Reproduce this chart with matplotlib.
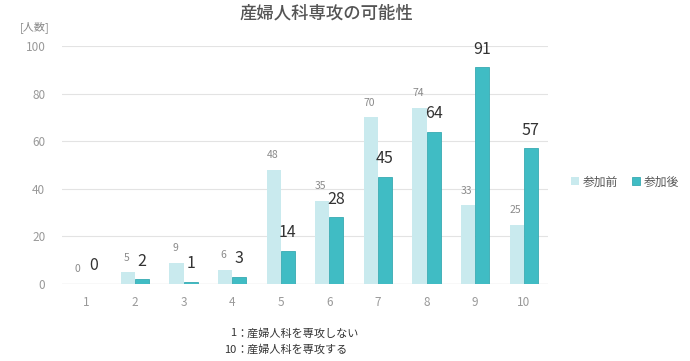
import matplotlib.pyplot as plt
import numpy as np

plt.rcParams['font.family'] = ['Noto Sans CJK JP', 'DejaVu Sans']

# データ
categories = ['1', '2', '3', '4', '5', '6', '7', '8', '9', '10']
before = [0, 5, 9, 6, 48, 35, 70, 74, 33, 25]
after = [0, 2, 1, 3, 14, 28, 45, 64, 91, 57]
series_names = ['参加前', '参加後']
y_ticks = [0, 20, 40, 60, 80, 100]

c_before = '#c9eaee'
c_after = '#40bcc4'

fig = plt.figure(figsize=(6.9, 3.61), dpi=100)
ax = fig.add_axes([62 / 690, 1 - 284 / 361, (548 - 62) / 690, (284 - 46) / 361])

x = np.arange(1, len(categories) + 1)
w = 0.29
ax.bar(x - w / 2, before, w, color=c_before, label=series_names[0], zorder=2)
ax.bar(x + w / 2, after, w, color=c_after, edgecolor='#38aab2', linewidth=0.6,
       label=series_names[1], zorder=2)

for xi, b, a in zip(x, before, after):
    ax.text(xi - w / 2 - 0.03, b + 4, str(b), ha='center', va='bottom',
            fontsize=7.5, color='#8a8a8a')
    ax.text(xi + w / 2, a + 4, str(a), ha='center', va='bottom',
            fontsize=11.5, color='#333333')

ax.set_xlim(0.5, 10.5)
ax.set_ylim(0, 100)
ax.set_xticks(x)
ax.set_xticklabels(categories)
ax.set_yticks(y_ticks)
ax.grid(axis='y', color='#e3e3e3', linewidth=0.8, zorder=0)
ax.tick_params(length=0, colors='#999999', labelsize=8.5)
ax.tick_params(axis='x', pad=9)
ax.tick_params(axis='y', pad=12)
for s in ax.spines.values():
    s.set_visible(False)
ax.axhline(0, color='#d9d9d9', linewidth=0.9, zorder=1)

fig.text(326 / 690, 1 - 14 / 361, '産婦人科専攻の可能性', ha='center', va='center',
         fontsize=12.5, fontweight=500, color='#555555')
fig.text(35 / 690, 1 - 27 / 361, '[人数]', ha='center', va='center',
         fontsize=8, color='#888888')

ax.legend(loc='center', bbox_to_anchor=(625 / 690, 1 - 182 / 361),
          bbox_transform=fig.transFigure, ncol=2, frameon=False,
          fontsize=8.5, handlelength=0.7, handleheight=0.7, handletextpad=0.3,
          columnspacing=1.2, labelcolor='#555555')

fig.text(236 / 690, 1 - 333 / 361, '1', ha='right', va='center', fontsize=8, color='#333333')
fig.text(236 / 690, 1 - 333 / 361, '：産婦人科を専攻しない', ha='left', va='center', fontsize=8, color='#333333')
fig.text(236 / 690, 1 - 350 / 361, '10', ha='right', va='center', fontsize=8, color='#333333')
fig.text(236 / 690, 1 - 350 / 361, '：産婦人科を専攻する', ha='left', va='center', fontsize=8, color='#333333')

fig.savefig('out.png', dpi=100)
